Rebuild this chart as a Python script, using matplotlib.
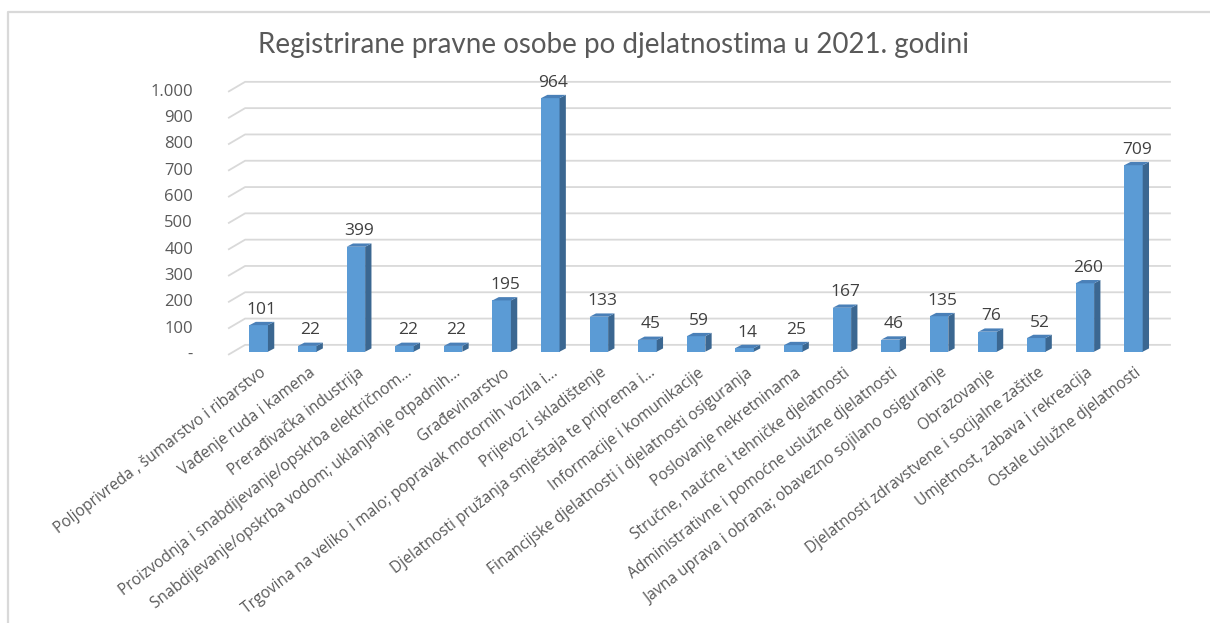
import matplotlib
matplotlib.use('Agg')
import matplotlib.pyplot as plt
from matplotlib.lines import Line2D

# podaci
kategorije = [
    'Poljoprivreda , šumarstvo i ribarstvo',
    'Vađenje ruda i kamena',
    'Prerađivačka industrija',
    'Proizvodnja i snabdijevanje/opskrba električnom…',
    'Snabdijevanje/opskrba vodom; uklanjanje otpadnih…',
    'Građevinarstvo',
    'Trgovina na veliko i malo; popravak motornih vozila i…',
    'Prijevoz i skladištenje',
    'Djelatnosti pružanja smještaja te priprema i…',
    'Informacije i komunikacije',
    'Financijske djelatnosti i djelatnosti osiguranja',
    'Poslovanje nekretninama',
    'Stručne, naučne i tehničke djelatnosti',
    'Administrativne i pomoćne uslužne djelatnosti',
    'Javna uprava i obrana; obavezno sojilano osiguranje',
    'Obrazovanje',
    'Djelatnosti zdravstvene i socijalne zaštite',
    'Umjetnost, zabava i rekreacija',
    'Ostale uslužne djelatnosti',
]
vrijednosti = [101, 22, 399, 22, 22, 195, 964, 133, 45, 59, 14, 25, 167, 46, 135, 76, 52, 260, 709]
y_ticks = list(range(0, 1001, 100))
y_labels = ['-'] + [f'{t:,}'.replace(',', '.') for t in y_ticks[1:]]

TITLE = 'Registrirane pravne osobe po djelatnostima u 2021. godini'

# izgled
W = 0.38        # sirina prednje strane
DX = 0.13       # dubina stupca (x)
DY = 12.5       # dubina stupca (y)
BACK = 26       # pomak zadnjeg zida
FRONT = -12     # prednji rub poda
X_FRONT, X_BACK, X_END = -0.63, -0.28, 18.77

C_FRONT = '#5b9bd5'
C_SIDE = '#3b6791'
C_TOP = '#4a80b8'
C_GRID = '#d9d9d9'
C_TXT = '#595959'
FONT = ['Open Sans', 'DejaVu Sans']

fig = plt.figure(figsize=(12.1, 6.23), dpi=100)
ax = fig.add_axes([0.1857, 0.4228, 0.7872, 0.4602])
ax.set_xlim(-0.7, 18.9)
ax.set_ylim(-30, 1060)
ax.axis('off')

# mreza
for t, lab in zip(y_ticks, y_labels):
    ax.plot([X_FRONT, X_BACK, X_END], [t + FRONT, t + BACK, t + BACK],
            color=C_GRID, lw=1.3, zorder=1, solid_capstyle='butt', clip_on=False)
    ax.text(X_FRONT - 0.72, t + FRONT, lab, ha='right', va='center',
            fontsize=12, color=C_TXT, family=FONT)

# stupci
x = list(range(len(vrijednosti)))
ax.bar(x, vrijednosti, width=W, color=C_FRONT, zorder=3)
for i, v in zip(x, vrijednosti):
    r = i + W / 2
    l = i - W / 2
    ax.fill([r, r + DX, r + DX, r], [0, DY, v + DY, v], color=C_SIDE, zorder=3, lw=0)
    ax.fill([l, l + DX, r + DX, r], [v, v + DY, v + DY, v], color=C_TOP, zorder=3, lw=0)
    ax.text(i + DX / 2, v + DY + 16, str(v), ha='center', va='bottom',
            fontsize=12.5, color='#404040', family=FONT)
    ax.text(i + 0.02, -50, kategorije[i], ha='right', va='top', rotation=37.5,
            rotation_mode='anchor', fontsize=11.2, color=C_TXT, family=FONT)

fig.text(0.507, 0.927, TITLE, ha='center', va='center', fontsize=20,
         color=C_TXT, family=['Lato', 'DejaVu Sans'])

# okvir
y_top = 1 - 11.5 / 623
x_left = 8 / 1210
fig.add_artist(Line2D([x_left, x_left, 1], [0, y_top, y_top], color=C_GRID,
                      lw=1.6, transform=fig.transFigure))

fig.savefig('out.png', dpi=100)
